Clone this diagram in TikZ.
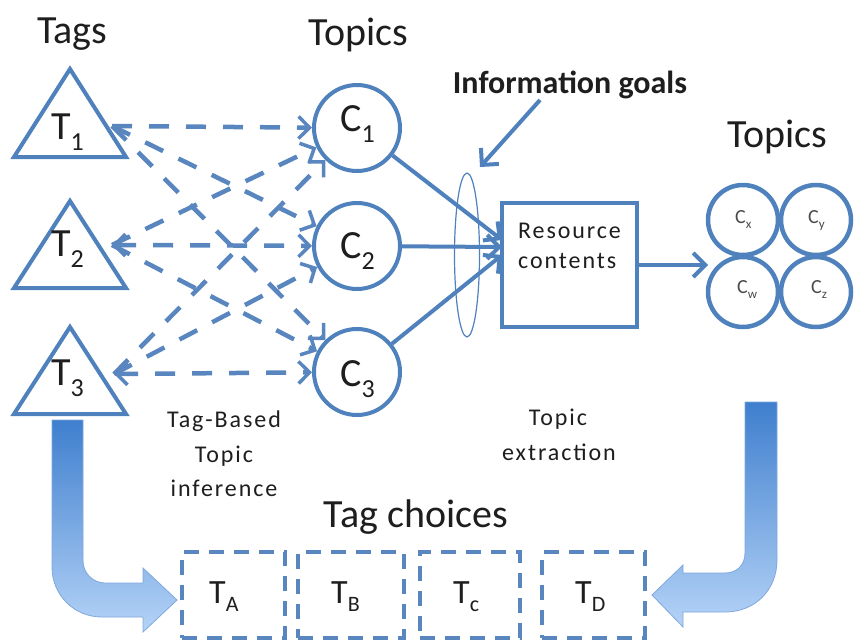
\documentclass[tikz,border=0pt]{standalone}
\usepackage{fontspec}
\setmainfont{Carlito}
\usetikzlibrary{arrows.meta,shapes.geometric,calc}
\definecolor{bl}{HTML}{4F81BD}
\definecolor{dbl}{HTML}{5A86C0}
\definecolor{ink}{HTML}{1E1E1E}
\definecolor{gtop}{HTML}{3F7FCE}
\definecolor{gbot}{HTML}{B5D3F7}
\definecolor{gedge}{HTML}{7FA8DC}
\newcommand\bigsub[1]{\raisebox{-11pt}{\fontsize{26}{26}\selectfont #1}}
\newcommand\midsub[1]{\raisebox{-8pt}{\fontsize{22}{22}\selectfont #1}}
\newcommand\tinysub[1]{\raisebox{-5pt}{\fontsize{13}{13}\selectfont #1}}
\tikzset{
  tri/.style={draw=bl, line width=4pt, line join=miter},
  topic/.style={circle, draw=bl, line width=4pt, minimum size=86pt, inner sep=0pt},
  small/.style={circle, draw=bl, line width=4.5pt, minimum size=70pt, inner sep=0pt},
  lbl/.style={text=ink, inner sep=0pt, font=\fontsize{40}{44}\selectfont},
  tlbl/.style={text=ink, inner sep=0pt, font=\fontsize{34}{38}\selectfont},
  slbl/.style={text=ink!80, inner sep=0pt, font=\fontsize{20}{22}\selectfont},
  ttl/.style={text=ink, inner sep=0pt, font=\fontsize{40}{44}\selectfont},
  captxt/.style={text=ink, inner sep=0pt, font=\fontsize{24}{26}\selectfont\addfontfeatures{LetterSpace=8}},
  dline/.style={draw=dbl, line width=4.5pt, dash pattern=on 20pt off 17pt,
     -{Straight Barb[length=11pt,width=22pt,line width=3.5pt]}},
  dline2/.style={dline, {Straight Barb[length=11pt,width=22pt,line width=3.5pt]}-{Straight Barb[length=11pt,width=22pt,line width=3.5pt]}},
  sarrow/.style={draw=bl, line width=4pt, -{Straight Barb[length=12pt,width=24pt,line width=4pt]}},
  choice/.style={draw=dbl, line width=4pt, dash pattern=on 15pt off 10pt, minimum height=86pt, inner sep=0pt},
  bigarrow/.style={top color=gtop, bottom color=gbot, draw=gedge, line width=0.8pt}
}
\begin{document}
\begin{tikzpicture}[x=1pt,y=-1pt]
\useasboundingbox (0,0) rectangle (854,643);
\fill[white] (0,0) rectangle (854,643);

% titles
\node[ttl, anchor=base] (tags) at (72,43) {Tags};
\node[ttl, anchor=base] (topics1) at (358,45) {Topics};
\node[ttl, anchor=base] (topics2) at (777,147) {Topics};
\node[text=ink, inner sep=0pt, anchor=base, font=\fontsize{32}{34}\selectfont\bfseries] (info) at (570,93) {Information goals};

% triangles
\draw[tri] (14,157) -- (70,69) -- (126,157) -- cycle;
\draw[tri] (14,288) -- (70,201) -- (126,288) -- cycle;
\draw[tri] (14,414) -- (70,327) -- (126,414) -- cycle;
\node[lbl, anchor=base west] (t1l) at (51,139) {T\bigsub{1}};
\node[lbl, anchor=base west] (t2l) at (51,256) {T\bigsub{2}};
\node[lbl, anchor=base west] (t3l) at (51,385) {T\bigsub{3}};
\coordinate (t1) at (112,126);
\coordinate (t2) at (112,245);
\coordinate (t3) at (114,374);

% topic circles
\node[topic] (c1) at (357,128) {};
\node[topic] (c2) at (357,246) {};
\node[topic] (c3) at (357,372) {};
\node[lbl, anchor=base west] (c1l) at (340,131) {C\bigsub{1}};
\node[lbl, anchor=base west] (c2l) at (340,258) {C\bigsub{2}};
\node[lbl, anchor=base west] (c3l) at (340,386) {C\bigsub{3}};

% dashed connections
\draw[dline] (t1) -- (c1);
\draw[dline] (t1) -- (c2);
\draw[dline] (t1) -- (c3);
\draw[dline] (t2) -- (c1);
\draw[dline2] (t2) -- (c2);
\draw[dline] (t2) -- (c3);
\draw[dline] (t3) -- (c1);
\draw[dline] (t3) -- (c2);
\draw[dline2] (t3) -- (c3);

% resource box
\node[draw=bl, line width=4pt, minimum width=135pt, minimum height=124pt, inner sep=0pt] (res) at (569.5,265) {};
\node[captxt, anchor=base west] (resl1) at (518,238) {Resource};
\node[captxt, anchor=base west] (resl2) at (518,268) {contents};
\coordinate (r1) at (502,240);
\coordinate (r2) at (502,247);
\coordinate (r3) at (502,255);
\draw[sarrow] (c1) -- (r1);
\draw[sarrow] (c2) -- (r2);
\draw[sarrow] (c3) -- (r3);

% ellipse of information goals
\node[ellipse, draw=bl, line width=1.2pt, minimum width=25pt, minimum height=164pt, inner sep=0pt] (ell) at (467,255) {};
\coordinate (infostart) at (540,100);
\coordinate (infoend) at (480,167);
\draw[sarrow] (infostart) -- (infoend);

% extracted topics
\node[small] (cx) at (743,220) {};
\node[small] (cy) at (816,220) {};
\node[small] (cw) at (743,292) {};
\node[small] (cz) at (816,292) {};
\node[slbl, anchor=base west] (cxl) at (735,223) {C\tinysub{x}};
\node[slbl, anchor=base west] (cyl) at (808,223) {C\tinysub{y}};
\node[slbl, anchor=base west] (cwl) at (737,293) {C\tinysub{w}};
\node[slbl, anchor=base west] (czl) at (811,293) {C\tinysub{z}};
\coordinate (clus) at (708,265);
\draw[sarrow] (res.east) -- (clus);

% captions
\node[captxt, anchor=base] (tb1) at (224,427) {Tag-Based};
\node[captxt, anchor=base] (tb2) at (224,462) {Topic};
\node[captxt, anchor=base] (tb3) at (224,496) {inference};
\node[captxt, anchor=base] (te1) at (558,425) {Topic};
\node[captxt, anchor=base] (te2) at (559,460) {extraction};
\node[ttl, anchor=base] (choices) at (416,527) {Tag choices};

% tag choice boxes
\node[choice, minimum width=103pt] (ta) at (233.5,595) {};
\node[choice, minimum width=106pt] (tb) at (351,595) {};
\node[choice, minimum width=100pt] (tc) at (470,595) {};
\node[choice, minimum width=103pt] (td) at (593.5,595) {};
\node[tlbl, anchor=base west] (tal) at (209,603) {T\midsub{A}};
\node[tlbl, anchor=base west] (tbl) at (331,603) {T\midsub{B}};
\node[tlbl, anchor=base west] (tcl) at (453,603) {T\midsub{c}};
\node[tlbl, anchor=base west] (tdl) at (575,603) {T\midsub{D}};

% big curved arrows
\shadedraw[bigarrow] (52,420) -- (52,567) .. controls (52,595) and (74,617) .. (102,617)
  -- (143,617) -- (143,632) -- (177,600) -- (143,568) -- (143,583) -- (105,583)
  .. controls (93,583) and (83,573) .. (83,561) -- (83,420) -- cycle;
\shadedraw[bigarrow] (745,402) -- (777,402) -- (777,560) .. controls (777,590) and (755,612) .. (725,612)
  -- (683,612) -- (683,627) -- (652,595) -- (683,565) -- (683,573) -- (725,573)
  .. controls (737,573) and (745,565) .. (745,553) -- cycle;
\end{tikzpicture}
\end{document}
